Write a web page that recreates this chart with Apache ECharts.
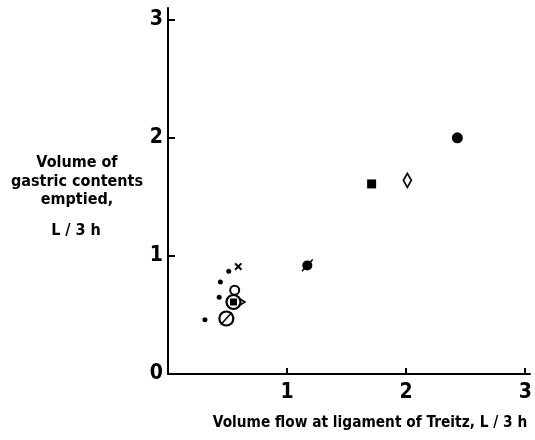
<!DOCTYPE html>
<html>
<head>
<meta charset="utf-8">
<script src="https://cdn.jsdelivr.net/npm/echarts@6/dist/echarts.min.js"></script>
<style>
  html, body { margin: 0; padding: 0; background: #fff; }
  #chart { width: 535px; height: 440px; }
</style>
</head>
<body>
<div id="chart"></div>
<script>
// ticks
var xTicks = [1, 2, 3];
var yTicks = [0, 1, 2, 3];

// data points [flow at Treitz, gastric emptied], L/3h
var smallDots = [[0.51, 0.87], [0.44, 0.78], [0.43, 0.65], [0.31, 0.46]];
var bigDot = [[2.43, 2.0]];
var filledSquare = [[1.71, 1.61]];
var openDiamondTall = [[2.01, 1.64]];
var openDiamondWide = [[0.57, 0.61]];
var crossPts = [[0.59, 0.91]];
var smallOpenCircle = [[0.56, 0.71]];
var bigOpenCircle = [[0.55, 0.61], [0.49, 0.47]];
var innerSquare = [[0.55, 0.61]];
var slashedDot = [[1.17, 0.92]];
var slashes = [[1.17, 0.92], [0.49, 0.47]];

var font = '"DejaVu Sans Condensed", "Liberation Sans Narrow", sans-serif';
var black = '#000';

var myChart = echarts.init(document.getElementById('chart'));

function pts(data, symbol, size, opts) {
    var s = {
        type: 'scatter',
        data: data,
        symbol: symbol,
        symbolSize: size,
        silent: true,
        itemStyle: { color: black, opacity: 1 }
    };
    for (var k in opts) s[k] = opts[k];
    return s;
}

var hollow = function (w) {
    return { itemStyle: { color: '#fff', borderColor: black, borderWidth: w, opacity: 1 } };
};

var option = {
    animation: false,
    backgroundColor: '#fff',
    // axes run a little past the last tick, as in the original
    grid: { left: 168, right: 5, top: 8, bottom: 66 },
    xAxis: {
        type: 'value', min: 0, max: 3.04,
        splitLine: { show: false },
        axisLine: { lineStyle: { color: black, width: 2 } },
        axisTick: { inside: true, length: 6, customValues: xTicks, lineStyle: { color: black, width: 2 } },
        axisLabel: { customValues: xTicks, color: black, fontFamily: font, fontWeight: 'bold', fontSize: 21, margin: 8 }
    },
    yAxis: {
        type: 'value', min: 0, max: 3.1,
        splitLine: { show: false },
        axisLine: { lineStyle: { color: black, width: 2 } },
        axisTick: { inside: true, length: 7, customValues: yTicks, lineStyle: { color: black, width: 2 } },
        axisLabel: { customValues: yTicks, color: black, fontFamily: font, fontWeight: 'bold', fontSize: 21, margin: 5 }
    },
    graphic: [
        {
            type: 'text', x: 77, y: 154,
            style: {
                text: 'Volume of\ngastric contents\nemptied,',
                textAlign: 'center',
                font: 'bold 16px ' + font, fill: black, lineHeight: 18.5
            }
        },
        {
            type: 'text', x: 76, y: 223,
            style: { text: 'L / 3 h', textAlign: 'center', font: 'bold 16px ' + font, fill: black }
        },
        {
            type: 'text', x: 370, y: 416,
            style: { text: 'Volume flow at ligament of Treitz, L / 3 h', textAlign: 'center', font: 'bold 15.3px ' + font, fill: black }
        }
    ],
    series: [
        pts(smallDots, 'circle', 5),
        pts(bigDot, 'circle', 11),
        pts(filledSquare, 'rect', 9),
        pts(openDiamondTall, 'diamond', [8, 14], hollow(1.8)),
        pts(openDiamondWide, 'diamond', [18, 11], hollow(1.8)),
        pts(crossPts, 'rect', [2, 9], { symbolRotate: 45 }),
        pts(crossPts, 'rect', [2, 9], { symbolRotate: -45 }),
        pts(smallOpenCircle, 'circle', 9, hollow(2)),
        pts(bigOpenCircle, 'circle', 14, hollow(2.2)),
        pts(innerSquare, 'rect', 7),
        pts(slashedDot, 'circle', 10),
        pts(slashes, 'rect', [1.6, 16], { symbolRotate: -42 })
    ]
};

myChart.setOption(option);
</script>
</body>
</html>
